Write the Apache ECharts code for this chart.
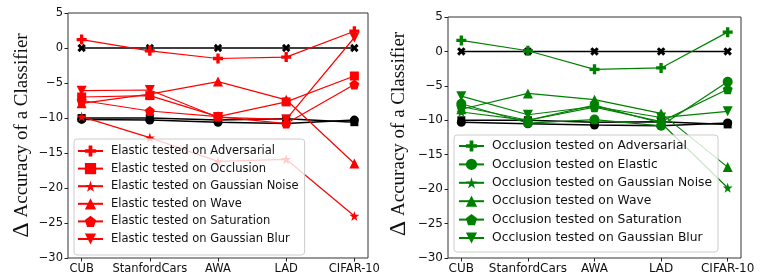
<!DOCTYPE html>
<html>
<head>
<meta charset="utf-8">
<script src="https://cdn.jsdelivr.net/npm/echarts@6/dist/echarts.min.js"></script>
<style>html,body{margin:0;padding:0;background:#fff;}#c{width:761px;height:280px;}</style>
</head>
<body>
<div id="c"></div>
<script>
// ---------- data ----------
const categories = ['CUB', 'StanfordCars', 'AWA', 'LAD', 'CIFAR-10'];
const yTickValues = [5, 0, -5, -10, -15, -20, -25, -30];
const yAxisTitle = 'Accuracy of a Classifier';

const leftNames = ['Elastic tested on Adversarial', 'Elastic tested on Occlusion', 'Elastic tested on Gaussian Noise',
  'Elastic tested on Wave', 'Elastic tested on Saturation', 'Elastic tested on Gaussian Blur'];
const elasticAdversarial = [1.2, -0.4, -1.5, -1.3, 2.4];
const elasticOcclusion   = [-7.0, -6.8, -9.8, -7.7, -4.0];
const elasticGaussNoise  = [-9.8, -12.8, -16.2, -15.9, -24.0];
const elasticWave        = [-7.9, -6.6, -4.8, -7.4, -16.5];
const elasticSaturation  = [-7.5, -9.0, -9.8, -10.8, -5.2];
const elasticBlur        = [-6.1, -6.0, -9.9, -10.2, 1.5];
const leftBaseZero   = [0, 0, 0, 0, 0];
const leftBaseCircle = [-10.2, -10.3, -10.6, -10.8, -10.3];
const leftBaseSquare = [-10.0, -10.0, -10.3, -10.1, -10.6];

const rightNames = ['Occlusion tested on Adversarial', 'Occlusion tested on Elastic', 'Occlusion tested on Gaussian Noise',
  'Occlusion tested on Wave', 'Occlusion tested on Saturation', 'Occlusion tested on Gaussian Blur'];
const occlAdversarial = [1.6, 0.1, -2.6, -2.4, 2.8];
const occlElastic     = [-7.6, -10.4, -9.9, -10.8, -4.4];
const occlGaussNoise  = [-8.8, -10.0, -7.8, -10.4, -19.8];
const occlWave        = [-8.4, -6.1, -7.0, -9.0, -16.8];
const occlSaturation  = [-8.0, -10.0, -8.1, -10.2, -5.5];
const occlBlur        = [-6.5, -9.2, -8.0, -9.6, -8.7];
const rightBaseZero   = [0, 0, 0, 0, 0];
const rightBaseCircle = [-10.3, -10.5, -10.7, -10.8, -10.4];
const rightBaseSquare = [-10.0, -10.0, -10.3, -10.2, -10.6];

// ---------- symbols ----------
function polyPath(n, rOut, rIn) {
  const pts = [];
  const total = rIn ? n * 2 : n;
  for (let i = 0; i < total; i++) {
    const r = rIn ? (i % 2 === 0 ? rOut : rIn) : rOut;
    const a = -Math.PI / 2 + i * 2 * Math.PI / total;
    pts.push((r * Math.cos(a)).toFixed(3) + ',' + (r * Math.sin(a)).toFixed(3));
  }
  return 'path://M' + pts.join('L') + 'Z';
}
const PLUS = 'path://M-1,-3L1,-3L1,-1L3,-1L3,1L1,1L1,3L-1,3L-1,1L-3,1L-3,-1L-1,-1Z';
const STAR = polyPath(5, 1, 0.382);
const PENT = polyPath(5, 1, 0);
const leftMarkers = [
  { symbol: PLUS, size: 10, rot: 0 },
  { symbol: 'rect', size: 9, rot: 0 },
  { symbol: STAR, size: 10, rot: 0 },
  { symbol: 'triangle', size: 10, rot: 0 },
  { symbol: PENT, size: 10, rot: 0 },
  { symbol: 'triangle', size: 10, rot: 180 }
];
const rightMarkers = [
  { symbol: PLUS, size: 10, rot: 0 },
  { symbol: 'circle', size: 10, rot: 0 },
  { symbol: STAR, size: 10, rot: 0 },
  { symbol: 'triangle', size: 10, rot: 0 },
  { symbol: PENT, size: 10, rot: 0 },
  { symbol: 'triangle', size: 10, rot: 180 }
];

const toPairs = arr => arr.map((v, i) => [i, v]);
const FONT = 'DejaVu Sans';
const minus = v => v < 0 ? '\u2212' + Math.abs(Math.round(v)) : String(Math.round(v));

function makeAxes(gi, fs) {
  return {
    x: {
      type: 'value', gridIndex: gi, min: -0.2, max: 4.2,
      splitLine: { show: false },
      axisLine: { show: false, onZero: false },
      axisTick: { show: true, customValues: [0, 1, 2, 3, 4], length: 3.5, lineStyle: { color: '#222' } },
      axisLabel: { customValues: [0, 1, 2, 3, 4], formatter: v => categories[Math.round(v)], color: '#111',
        fontFamily: FONT, fontSize: fs, margin: 5 }
    },
    y: {
      type: 'value', gridIndex: gi, min: -30, max: 5,
      splitLine: { show: false },
      axisLine: { show: false, onZero: false },
      axisTick: { show: true, customValues: yTickValues, length: 3.5, lineStyle: { color: '#222' } },
      axisLabel: { customValues: yTickValues, formatter: minus, color: '#111', fontFamily: FONT, fontSize: fs, margin: 5 }
    }
  };
}

const series = [];
function blackSeries(gi, zero, circ, sq) {
  const common = { type: 'line', xAxisIndex: gi, yAxisIndex: gi, z: 2, animation: false,
    lineStyle: { color: '#000', width: 1.5 }, itemStyle: { color: '#000' } };
  series.push(Object.assign({ name: 'b0' + gi, data: toPairs(zero), symbol: PLUS, symbolRotate: 45, symbolSize: 9 }, common));
  series.push(Object.assign({ name: 'b1' + gi, data: toPairs(circ), symbol: 'circle', symbolSize: 9 }, common));
  series.push(Object.assign({ name: 'b2' + gi, data: toPairs(sq), symbol: 'rect', symbolSize: 8 }, common));
}
function colorSeries(gi, names, arrs, mk, color) {
  arrs.forEach((arr, k) => {
    series.push({
      type: 'line', name: names[k], xAxisIndex: gi, yAxisIndex: gi, z: 3, animation: false,
      data: toPairs(arr), symbol: mk[k].symbol, symbolSize: mk[k].size, symbolRotate: mk[k].rot,
      lineStyle: { color: color, width: 1.2 }, itemStyle: { color: color }
    });
  });
}
blackSeries(0, leftBaseZero, leftBaseCircle, leftBaseSquare);
blackSeries(1, rightBaseZero, rightBaseCircle, rightBaseSquare);
colorSeries(0, leftNames, [elasticAdversarial, elasticOcclusion, elasticGaussNoise, elasticWave, elasticSaturation, elasticBlur], leftMarkers, '#ff0000');
colorSeries(1, rightNames, [occlAdversarial, occlElastic, occlGaussNoise, occlWave, occlSaturation, occlBlur], rightMarkers, '#008000');

const a0 = makeAxes(0, 11.5), a1 = makeAxes(1, 12);
const legendCommon = {
  orient: 'vertical', itemWidth: 25, itemHeight: 14, borderColor: '#cccccc', borderWidth: 1,
  borderRadius: 3, backgroundColor: 'rgba(255,255,255,0.8)',
  selectedMode: false
};
function yTitle(x, y) {
  return {
    type: 'text', x: x, y: y, rotation: Math.PI / 2, z: 20,
    style: {
      text: '{d|\u0394} ' + yAxisTitle, fill: '#111', fontFamily: 'Liberation Serif', fontSize: 19,
      align: 'center', verticalAlign: 'middle',
      rich: { d: { fontFamily: 'Liberation Serif', fontSize: 24, fill: '#111' } }
    }
  };
}
const option = {
  animation: false,
  grid: [
    { left: 68, top: 13, width: 300, height: 245, show: true, borderColor: '#333', borderWidth: 1, backgroundColor: 'transparent' },
    { left: 448, top: 17, width: 293, height: 241, show: true, borderColor: '#333', borderWidth: 1, backgroundColor: 'transparent' }
  ],
  xAxis: [a0.x, a1.x],
  yAxis: [a0.y, a1.y],
  legend: [
    Object.assign({}, legendCommon, { data: leftNames, left: 74, top: 139, itemGap: 5.6, padding: [6, 6, 10, 3],
      textStyle: { fontFamily: FONT, fontSize: 11.5, color: '#111', padding: [0, 0, 0, 3] } }),
    Object.assign({}, legendCommon, { data: rightNames, left: 454, top: 135, itemGap: 6.4, padding: [5, 6, 8, 4],
      textStyle: { fontFamily: FONT, fontSize: 12.3, color: '#111', padding: [0, 0, 0, 3] } })
  ],
  graphic: [yTitle(22, 135.5), yTitle(399, 134)],
  series: series
};
const chart = echarts.init(document.getElementById('c'), null, { renderer: 'canvas' });
chart.setOption(option);

// make sure every numeric tick label stays visible
const zr = chart.getZr();
zr.storage.getRoots().forEach(r => {
  const walk = el => {
    if (el.type === 'text' && el.style && typeof el.style.text === 'string' && /^\u2212?\d+$/.test(el.style.text)) {
      let p = el; while (p) { p.ignore = false; p.invisible = false; p = p.parent; }
      el.style.opacity = 1;
      el.markRedraw && el.markRedraw();
    }
    if (el.childrenRef) el.childrenRef().forEach(walk);
  };
  walk(r);
});
zr.refreshImmediately();
</script>
</body>
</html>
